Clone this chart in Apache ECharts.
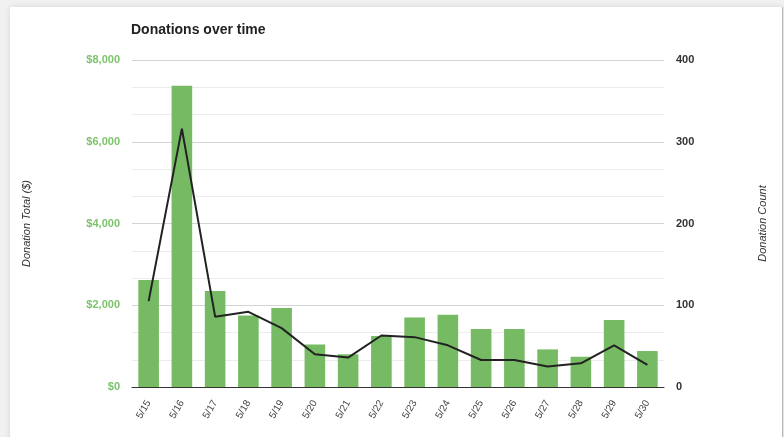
<!DOCTYPE html>
<html>
<head>
<meta charset="utf-8">
<script src="https://cdn.jsdelivr.net/npm/echarts@6/dist/echarts.min.js"></script>
<style>
  html, body { margin: 0; padding: 0; width: 784px; height: 437px; overflow: hidden; background: #f1f1f1; }
  #card { position: absolute; left: 10px; top: 7px; width: 772px; height: 440px; background: #ffffff;
          box-shadow: 0 0 6px rgba(0,0,0,0.12); border-right: 1px solid #b8b8b8; }
  #chart { position: absolute; left: 0; top: 0; width: 784px; height: 437px; }
</style>
</head>
<body>
<div id="card"></div>
<div id="chart"></div>
<script>
const categories = ['5/15','5/16','5/17','5/18','5/19','5/20','5/21','5/22','5/23','5/24','5/25','5/26','5/27','5/28','5/29','5/30'];
const donationTotal = [2620, 7370, 2350, 1750, 1930, 1040, 800, 1250, 1700, 1770, 1420, 1420, 920, 740, 1640, 880];
const donationCount = [105, 316, 86, 92, 72, 40, 36, 63, 61, 51, 33, 33, 25, 29, 51, 27];
const leftTicks = [0, 2000, 4000, 6000, 8000];
const rightTicks = [0, 100, 200, 300, 400];

const chart = echarts.init(document.getElementById('chart'), null, { renderer: 'canvas' });
chart.setOption({
  animation: false,
  backgroundColor: 'transparent',
  title: {
    text: 'Donations over time',
    left: 126, top: 18,
    textStyle: { fontFamily: 'Liberation Sans, Arial', fontSize: 14, fontWeight: 'bold', color: '#222' }
  },
  grid: { left: 132, right: 120, top: 60, bottom: 50 },
  xAxis: {
    type: 'category',
    data: categories,
    axisLine: { lineStyle: { color: '#333', width: 1 } },
    axisTick: { show: false },
    axisLabel: { rotate: 60, fontSize: 10, color: '#444', margin: 14, fontFamily: 'Liberation Sans, Arial' }
  },
  yAxis: [
    {
      type: 'value',
      min: leftTicks[0], max: leftTicks[leftTicks.length - 1], interval: 2000,
      name: 'Donation Total ($)',
      nameLocation: 'middle', nameRotate: 90, nameGap: 100,
      nameTextStyle: { fontStyle: 'italic', fontSize: 11, color: '#333', fontFamily: 'Liberation Sans, Arial' },
      axisLine: { show: false }, axisTick: { show: false },
      axisLabel: {
        fontSize: 11, fontWeight: 'bold', color: '#7cc46c', margin: 12, fontFamily: 'Liberation Sans, Arial',
        formatter: v => '$' + v.toLocaleString('en-US')
      },
      splitLine: { lineStyle: { color: '#d4d4d4', width: 1 } },
      minorTick: { show: false, splitNumber: 3 },
      minorSplitLine: { show: true, lineStyle: { color: '#ececec', width: 1 } }
    },
    {
      type: 'value',
      min: rightTicks[0], max: rightTicks[rightTicks.length - 1], interval: 100,
      name: 'Donation Count',
      nameLocation: 'middle', nameRotate: 90, nameGap: 93,
      nameTextStyle: { fontStyle: 'italic', fontSize: 11, color: '#333', fontFamily: 'Liberation Sans, Arial' },
      axisLine: { show: false }, axisTick: { show: false },
      axisLabel: { fontSize: 11, fontWeight: 'bold', color: '#333', margin: 12, fontFamily: 'Liberation Sans, Arial' },
      splitLine: { show: false }
    }
  ],
  series: [
    {
      name: 'Donation Total',
      type: 'bar',
      yAxisIndex: 0,
      data: donationTotal,
      barWidth: '62%',
      itemStyle: { color: '#76bb63' }
    },
    {
      name: 'Donation Count',
      type: 'line',
      yAxisIndex: 1,
      data: donationCount,
      symbol: 'none',
      lineStyle: { color: '#222', width: 2 },
      z: 5
    }
  ]
});
</script>
</body>
</html>
